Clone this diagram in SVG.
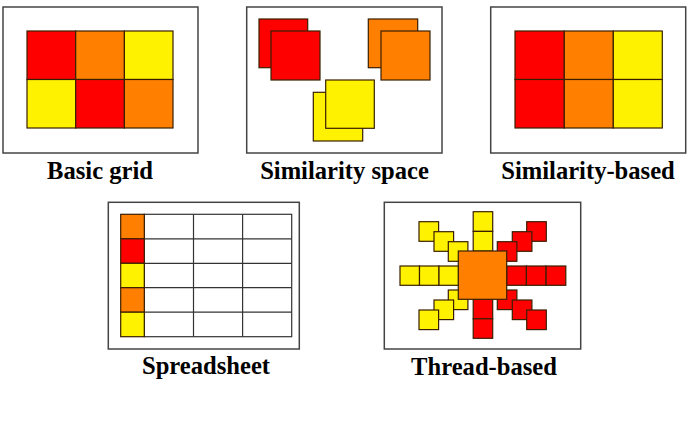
<svg xmlns="http://www.w3.org/2000/svg" width="687" height="424" viewBox="0 0 687 424">
<style>
.frame{fill:#fff;stroke:#444;stroke-width:1.5}
.c{stroke:#3a1e00;stroke-width:1.2}
.r{fill:#ff0000}
.o{fill:#ff8000}
.y{fill:#fff200}
.w{fill:#fff}
.lbl{font-family:"Liberation Serif","Times New Roman",serif;font-weight:bold;font-size:24.6px;fill:#000;text-anchor:middle}
</style>
<rect width="687" height="424" fill="#fff"/>

<g id="basic-grid">
<rect class="frame" x="3" y="7" width="195" height="146"/>
<rect class="c r" x="27" y="31" width="48.7" height="48.5"/>
<rect class="c o" x="75.7" y="31" width="48.7" height="48.5"/>
<rect class="c y" x="124.4" y="31" width="48.6" height="48.5"/>
<rect class="c y" x="27" y="79.5" width="48.7" height="48.5"/>
<rect class="c r" x="75.7" y="79.5" width="48.7" height="48.5"/>
<rect class="c o" x="124.4" y="79.5" width="48.6" height="48.5"/>
<text class="lbl" x="100" y="178.5">Basic grid</text>
</g>

<g id="similarity-space">
<rect class="frame" x="246.7" y="7" width="195.3" height="146"/>
<rect class="c r" x="259" y="19" width="48.7" height="48.7"/>
<rect class="c r" x="271" y="31" width="49" height="49"/>
<rect class="c o" x="368.3" y="19" width="49.4" height="48.7"/>
<rect class="c o" x="381" y="31" width="49" height="49"/>
<rect class="c y" x="313.3" y="92.3" width="49.4" height="48.7"/>
<rect class="c y" x="325.7" y="80" width="48.6" height="48.3"/>
<text class="lbl" x="344.5" y="178.5">Similarity space</text>
</g>

<g id="similarity-based">
<rect class="frame" x="490.7" y="7" width="195" height="146"/>
<rect class="c r" x="515" y="31" width="49.3" height="48.5"/>
<rect class="c o" x="564.3" y="31" width="49" height="48.5"/>
<rect class="c y" x="613.3" y="31" width="49" height="48.5"/>
<rect class="c r" x="515" y="79.5" width="49.3" height="48.5"/>
<rect class="c o" x="564.3" y="79.5" width="49" height="48.5"/>
<rect class="c y" x="613.3" y="79.5" width="49" height="48.5"/>
<text class="lbl" x="588" y="178.5">Similarity-based</text>
</g>

<g id="spreadsheet">
<rect class="frame" x="108.3" y="202.3" width="191" height="146.7"/>
<g stroke="#333" stroke-width="1.2">
<rect class="w" x="144.3" y="214.3" width="147.4" height="122.4"/>
<line x1="193.5" y1="214.3" x2="193.5" y2="336.7"/>
<line x1="242.6" y1="214.3" x2="242.6" y2="336.7"/>
<line x1="144.3" y1="238.8" x2="291.7" y2="238.8"/>
<line x1="144.3" y1="263.3" x2="291.7" y2="263.3"/>
<line x1="144.3" y1="287.7" x2="291.7" y2="287.7"/>
<line x1="144.3" y1="312.2" x2="291.7" y2="312.2"/>
</g>
<rect class="c o" x="120.7" y="214.3" width="23.6" height="24.5"/>
<rect class="c r" x="120.7" y="238.8" width="23.6" height="24.5"/>
<rect class="c y" x="120.7" y="263.3" width="23.6" height="24.4"/>
<rect class="c o" x="120.7" y="287.7" width="23.6" height="24.5"/>
<rect class="c y" x="120.7" y="312.2" width="23.6" height="24.5"/>
<text class="lbl" x="206" y="373.5">Spreadsheet</text>
</g>

<g id="thread-based">
<rect class="frame" x="384.3" y="202.3" width="196.4" height="146.7"/>
<rect class="c y" x="400" y="266" width="19.5" height="19.3"/>
<rect class="c y" x="419.5" y="266" width="19.5" height="19.3"/>
<rect class="c y" x="439" y="266" width="19.5" height="19.3"/>
<rect class="c r" x="506.7" y="266" width="19.7" height="19.3"/>
<rect class="c r" x="526.4" y="266" width="19.7" height="19.3"/>
<rect class="c r" x="546.1" y="266" width="19.7" height="19.3"/>
<rect class="c y" x="473.2" y="211.7" width="19.5" height="19.7"/>
<rect class="c y" x="473.2" y="231.4" width="19.5" height="19.7"/>
<rect class="c r" x="473.2" y="299.3" width="19.5" height="19.5"/>
<rect class="c r" x="473.2" y="318.8" width="19.5" height="19.5"/>
<rect class="c y" x="419" y="221.7" width="19.6" height="19.6"/>
<rect class="c y" x="434" y="231.7" width="19.6" height="19.6"/>
<rect class="c y" x="448.3" y="241.7" width="19.6" height="19.6"/>
<rect class="c r" x="526.7" y="221.7" width="19.6" height="19.6"/>
<rect class="c r" x="512.3" y="231.7" width="19.6" height="19.6"/>
<rect class="c r" x="497.3" y="241.7" width="19.6" height="19.6"/>
<rect class="c y" x="448.3" y="290" width="19.6" height="19.6"/>
<rect class="c y" x="434" y="300" width="19.6" height="19.6"/>
<rect class="c y" x="419" y="310" width="19.6" height="19.6"/>
<rect class="c r" x="497.3" y="290" width="19.6" height="19.6"/>
<rect class="c r" x="512.3" y="300" width="19.6" height="19.6"/>
<rect class="c r" x="526.7" y="310" width="19.6" height="19.6"/>
<rect class="c o" x="458.3" y="251" width="48.4" height="48.3"/>
<text class="lbl" x="484" y="374.5">Thread-based</text>
</g>
<g id="connectors"/>
</svg>
